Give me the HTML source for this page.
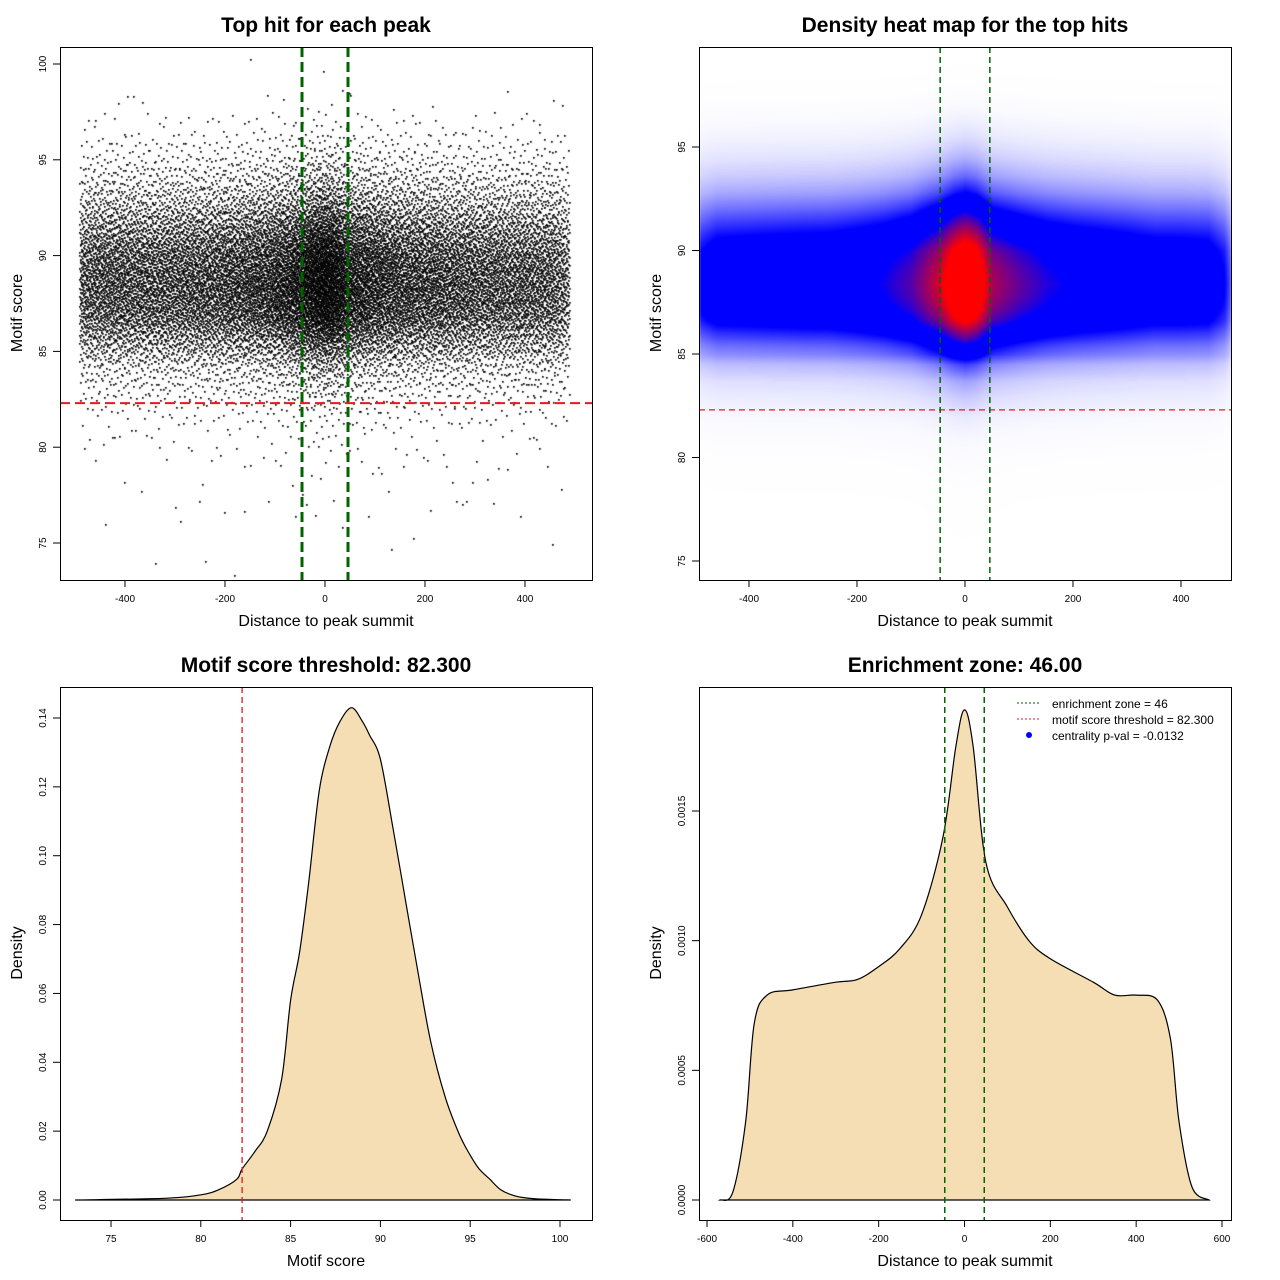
<!DOCTYPE html>
<html><head><meta charset="utf-8"><style>
html,body{margin:0;padding:0;background:#fff;}
#wrap{position:relative;width:1280px;height:1280px;overflow:hidden;font-family:"Liberation Sans",sans-serif;}
canvas,svg{position:absolute;left:0;top:0;}
</style></head><body>
<div id="wrap">
<canvas id="sc" width="1280" height="1280"></canvas>
<svg id="sv" width="1280" height="1280" xmlns="http://www.w3.org/2000/svg"></svg>
</div>
<script>
// Motif score density (panel 3)
const scoreX = [73,78,80,81,82,82.3,83,83.7,84.5,85,85.5,86,86.6,87.2,87.75,88.4,89,89.4,90,90.7,91.4,92.1,92.8,93.6,94.4,95,95.5,96.1,96.7,97.5,98.5,100,100.6];
const scoreDens = [0,0.0005,0.0015,0.003,0.006,0.009,0.014,0.02,0.035,0.058,0.072,0.092,0.119,0.132,0.139,0.143,0.139,0.135,0.128,0.108,0.087,0.066,0.046,0.03,0.019,0.013,0.009,0.006,0.003,0.0012,0.0004,0.0001,0];
// Distance density (panel 4)
const distX = [-570,-540,-510,-490,-460,-400,-300,-250,-200,-150,-100,-50,-20,0,20,50,100,150,200,300,350,400,450,480,500,530,570];
const distDens = [0,0.00003,0.0003,0.00068,0.00079,0.00081,0.00084,0.00085,0.0009,0.00097,0.0011,0.0014,0.00175,0.00189,0.00175,0.0013,0.00113,0.001,0.00093,0.00084,0.00079,0.00079,0.00077,0.00062,0.0003,0.00005,0];
const scoreTicks = [75,80,85,90,95,100];
const heatScoreTicks = [75,80,85,90,95];
const distTicks = [-400,-200,0,200,400];
const densTicks3 = [0,0.02,0.04,0.06,0.08,0.10,0.12,0.14];
const densTicks3Lbl = ["0.00","0.02","0.04","0.06","0.08","0.10","0.12","0.14"];
const scoreTicks3 = [75,80,85,90,95,100];
const distTicks4 = [-600,-400,-200,0,200,400,600];
const densTicks4 = [0,0.0005,0.001,0.0015];
const densTicks4Lbl = ["0.0000","0.0005","0.0010","0.0015"];
const threshold = 82.3;
const zone = 46;
const nPoints = 23000;

function interp(xs,ys,x){if(x<=xs[0])return ys[0];if(x>=xs[xs.length-1])return ys[ys.length-1];
 for(let i=1;i<xs.length;i++){if(x<=xs[i]){const t=(x-xs[i-1])/(xs[i]-xs[i-1]);return ys[i-1]+t*(ys[i]-ys[i-1]);}}return 0;}
function lin(d0,d1,r0,r1){return v=>r0+(v-d0)/(d1-d0)*(r1-r0);}

const p1x=lin(-400,400,125,525), p1y=lin(100,75,64,543);
const p2x=lin(-400,400,749,1181), p2y=lin(95,75,147,561);
const p3x=lin(75,100,111,560), p3y=lin(0,0.14,1200,718);
const p4x=lin(-600,600,707,1222), p4y=lin(0,0.0015,1200,811);

const NS="http://www.w3.org/2000/svg";
const svg=document.getElementById('sv');
function el(tag,attrs,parent){const e=document.createElementNS(NS,tag);for(const k in attrs)e.setAttribute(k,attrs[k]);(parent||svg).appendChild(e);return e;}
function txt(s,attrs,parent){const e=el('text',attrs,parent);e.textContent=s;return e;}

// ---- scatter (panel 1) ----
const ctx=document.getElementById('sc').getContext('2d');
function halton(i,b){let f=1,r=0;while(i>0){f/=b;r+=f*(i%b);i=Math.floor(i/b);}return r;}
ctx.fillStyle='#000';
let carry=0,idx=1;
for(let dx=-490;dx<490;dx+=10){
 const pd=interp(distX,distDens,dx+5)*10;
 for(let s=73;s<100.5;s+=0.25){
  const ps=interp(scoreX,scoreDens,s+0.125)*0.25;
  carry+=nPoints*pd*ps;
  while(carry>=1){carry-=1;
   const x=p1x(dx+10*halton(idx,2)), y=p1y(s+0.25*halton(idx,3));idx++;
   ctx.fillRect(Math.round(x)-1,Math.round(y)-1,1.7,1.7);}
 }
}
// ---- heatmap (panel 2) ----
const hx0=700,hy0=48,hw=531,hh=531;
const img=ctx.createImageData(hw,hh);
const dMax=0.00189*0.143;
for(let j=0;j<hh;j++){
 const s=75+(561-(hy0+j))/20.7;
 const ds=interp(scoreX,scoreDens,s)*0.8+interp(scoreX,scoreDens,s-0.8)*0.1+interp(scoreX,scoreDens,s+0.8)*0.1;
 for(let i=0;i<hw;i++){
  const d=(hx0+i-965)/0.54;
  const t=interp(distX,distDens,d)*ds/dMax;
  let r,g,b;
  if(t<0.32){const u=Math.pow(t/0.32,1.25);r=255*(1-u);g=255*(1-u);b=255;}
  else if(t<0.5){r=0;g=0;b=255;}
  else {const u=Math.min(1,Math.pow((t-0.5)/0.3,0.8));r=255*u;g=0;b=255*(1-u);}
  const k=(j*hw+i)*4;img.data[k]=r;img.data[k+1]=g;img.data[k+2]=b;img.data[k+3]=255;}
}
ctx.putImageData(img,hx0,hy0);

// ---- density fills (Catmull-Rom smoothed through data) ----
function smoothPath(xs,ys,sx,sy){
 const P=xs.map((x,i)=>[sx(x),sy(ys[i])]);
 let d='M'+P[0][0].toFixed(1)+','+P[0][1].toFixed(1);
 for(let i=0;i<P.length-1;i++){
  const p0=P[Math.max(0,i-1)],p1=P[i],p2=P[i+1],p3=P[Math.min(P.length-1,i+2)];
  const c1=[p1[0]+(p2[0]-p0[0])/6,p1[1]+(p2[1]-p0[1])/6];
  const c2=[p2[0]-(p3[0]-p1[0])/6,p2[1]-(p3[1]-p1[1])/6];
  d+=' C'+c1[0].toFixed(1)+','+c1[1].toFixed(1)+' '+c2[0].toFixed(1)+','+c2[1].toFixed(1)+' '+p2[0].toFixed(1)+','+p2[1].toFixed(1);
 }
 return d+' Z';
}
const f3=el('path',{d:smoothPath(scoreX,scoreDens,p3x,p3y),fill:'#F5DEB3',stroke:'#000','stroke-width':1.2});


const f4=el('path',{d:smoothPath(distX,distDens,p4x,p4y),fill:'#F5DEB3',stroke:'#000','stroke-width':1.2});



// ---- reference lines ----
function vline(x,y0,y1,col,w,dash,name){const l=el('line',{x1:x,x2:x,y1:y0,y2:y1,stroke:col,'stroke-width':w,'stroke-dasharray':dash});}
function hline(y,x0,x1,col,w,dash,name){const l=el('line',{x1:x0,x2:x1,y1:y,y2:y,stroke:col,'stroke-width':w,'stroke-dasharray':dash});}
hline(p1y(threshold),60,592,'#e41a1c',2,'10,5','threshold-line-1');
vline(p1x(-zone),47,580,'#006400',3,'10,5','zone-left-1');
vline(p1x(zone),47,580,'#006400',3,'10,5','zone-right-1');
hline(p2y(threshold),699,1232,'#e41a1c',1.3,'6,4','threshold-line-2');
vline(p2x(-zone),47,580,'#006400',1.5,'6,4','zone-left-2');
vline(p2x(zone),47,580,'#006400',1.5,'6,4','zone-right-2');
vline(p3x(threshold),687,1220,'#e41a1c',1.3,'6,4','threshold-line-3');
vline(p4x(-zone),687,1220,'#006400',1.5,'6,4','zone-left-4');
vline(p4x(zone),687,1220,'#006400',1.5,'6,4','zone-right-4');

// ---- axes ----
function panel(x0,y0,name,title,xl,yl,xt,xs,yt,yLbl,ys){
 const r=el('rect',{x:x0+0.5,y:y0+0.5,width:532,height:533,fill:'none',stroke:'#000'});
 
 const t=txt(title,{x:x0+266,y:y0-15,'text-anchor':'middle','font-size':21,'font-weight':'bold'});
 
 const a=txt(xl,{x:x0+266,y:y0+579,'text-anchor':'middle','font-size':16});
 
 const b=txt(yl,{x:0,y:0,'text-anchor':'middle','font-size':16,transform:`translate(${x0-38},${y0+266}) rotate(-90)`});
 
 const yb=y0+533;
 const xa=el('line',{x1:xs(xt[0]),x2:xs(xt[xt.length-1]),y1:yb+0.5,y2:yb+0.5,stroke:'#000'});
 
 xt.forEach(v=>{const x=xs(v);el('line',{x1:x,x2:x,y1:yb,y2:yb+7,stroke:'#000'});
  const l=txt(String(v),{x:x,y:yb+22,'text-anchor':'middle','font-size':10});
  });
 const ya=el('line',{x1:x0+0.5,x2:x0+0.5,y1:ys(yt[0]),y2:ys(yt[yt.length-1]),stroke:'#000'});
 
 yt.forEach((v,i)=>{const y=ys(v);el('line',{x1:x0-7,x2:x0,y1:y,y2:y,stroke:'#000'});
  const l=txt(yLbl[i],{x:0,y:0,'text-anchor':'middle','font-size':10,transform:`translate(${x0-14},${y}) rotate(-90)`});
  });
}
panel(60,47,'scatter','Top hit for each peak','Distance to peak summit','Motif score',distTicks,p1x,scoreTicks,scoreTicks.map(String),p1y);
panel(699,47,'heatmap','Density heat map for the top hits','Distance to peak summit','Motif score',distTicks,p2x,heatScoreTicks,heatScoreTicks.map(String),p2y);
panel(60,687,'score-density','Motif score threshold: 82.300','Motif score','Density',scoreTicks3,p3x,densTicks3,densTicks3Lbl,p3y);
panel(699,687,'distance-density','Enrichment zone: 46.00','Distance to peak summit','Density',distTicks4,p4x,densTicks4,densTicks4Lbl,p4y);

// ---- legend ----
const lg=el('g',{});

const l1=el('line',{x1:1017,x2:1041,y1:703,y2:703,stroke:'#006400','stroke-dasharray':'2,2'},lg);

const l2=el('line',{x1:1017,x2:1041,y1:719,y2:719,stroke:'#e41a1c','stroke-dasharray':'2,2'},lg);

const l3=el('circle',{cx:1029,cy:735,r:3,fill:'#0000ff'},lg);

const t1=txt('enrichment zone = 46',{x:1052,y:708,'font-size':12},lg);

const t2=txt('motif score threshold = 82.300',{x:1052,y:724,'font-size':12},lg);

const t3=txt('centrality p-val = -0.0132',{x:1052,y:740,'font-size':12},lg);

</script>
</body></html>
